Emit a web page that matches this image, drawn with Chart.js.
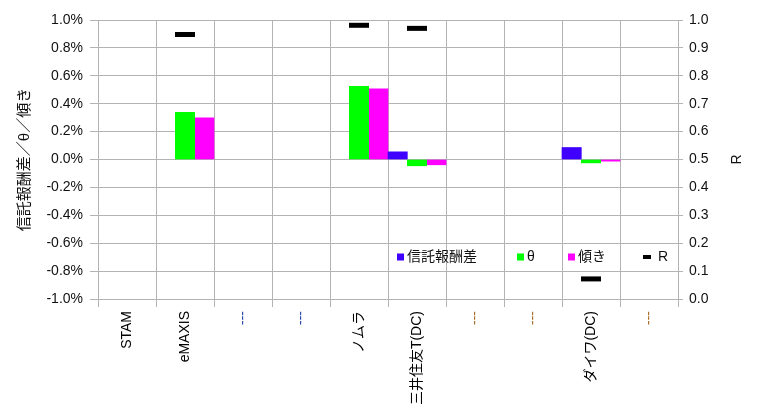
<!DOCTYPE html>
<html>
<head>
<meta charset="utf-8">
<script src="https://cdn.jsdelivr.net/npm/chart.js@4.4.1/dist/chart.umd.min.js"></script>
<style>
  html, body { margin: 0; padding: 0; background: #fff; }
  #wrap { width: 760px; height: 420px; }
</style>
</head>
<body>
<div id="wrap"><canvas id="chart"></canvas></div>
<script>
// Categories and series (percent values for the bars, R on the right axis)
const categories = ['STAM', 'eMAXIS', '---', '---', 'ノムラ', '三井住友T(DC)', '---', '---', 'ダイワ(DC)', '---'];
const labelColors = ['#000', '#000', '#2848a8', '#2848a8', '#000', '#000', '#a87028', '#a87028', '#000', '#a87028'];
const feeDiff = [null, null, null, null, null, 0.055, null, null, 0.086, null];
const theta = [null, 0.338, null, null, 0.524, -0.045, null, null, -0.024, null];
const slope = [null, 0.298, null, null, 0.507, -0.038, null, null, -0.012, null];
const rValues = [null, 0.948, null, null, 0.981, 0.970, null, null, 0.072, null];
const seriesNames = ['信託報酬差', 'θ', '傾き', 'R'];

const GRID = '#b3b3b3';
const FONT = '"Liberation Sans", Arial, "Noto Sans CJK JP", sans-serif';

Chart.defaults.font.family = FONT;
Chart.defaults.font.size = 14;
Chart.defaults.color = '#111';

// Legend drawn inside the plot, one row near the bottom right,
// plus the right axis title which reads bottom-to-top like the left one
const innerLegend = {
  id: 'innerLegend',
  afterDraw(chart) {
    const { ctx, chartArea } = chart;
    const y = chartArea.bottom - 42;
    const xs = [397, 517, 568, 643];
    ctx.save();
    ctx.font = '14px ' + FONT;
    ctx.textBaseline = 'middle';
    chart.data.datasets.forEach((ds, i) => {
      const x = xs[i];
      if (ds.type === 'line') {
        ctx.fillStyle = ds.borderColor;
        ctx.fillRect(x, y - 2, 8, 4);
      } else {
        ctx.fillStyle = ds.backgroundColor;
        ctx.fillRect(x, y - 3.5, 7, 7);
      }
      ctx.fillStyle = '#111';
      ctx.fillText(ds.label, x + (ds.type === 'line' ? 15 : 10), y);
    });

    const r = chart.scales.y2;
    ctx.translate(r.right - 23, (chartArea.top + chartArea.bottom) / 2);
    ctx.rotate(-Math.PI / 2);
    ctx.textAlign = 'center';
    ctx.fillText('R', 0, 0);
    ctx.restore();
  }
};

new Chart(document.getElementById('chart'), {
  type: 'bar',
  data: {
    labels: categories,
    datasets: [
      { label: seriesNames[0], data: feeDiff, backgroundColor: '#4000ff', yAxisID: 'y', order: 2 },
      { label: seriesNames[1], data: theta, backgroundColor: '#00ff00', yAxisID: 'y', order: 2 },
      { label: seriesNames[2], data: slope, backgroundColor: '#ff00ff', yAxisID: 'y', order: 2 },
      {
        label: seriesNames[3], type: 'line', data: rValues, yAxisID: 'y2', order: 1,
        showLine: false, borderColor: '#000', backgroundColor: '#000',
        pointStyle: 'line', pointRadius: 10, pointBorderWidth: 5, pointHoverRadius: 10
      }
    ]
  },
  options: {
    responsive: true,
    maintainAspectRatio: false,
    animation: false,
    events: [],
    layout: { padding: { top: 20, left: 0, right: 0, bottom: 0 } },
    datasets: { bar: { categoryPercentage: 1.0, barPercentage: 1.0 } },
    plugins: { legend: { display: false }, tooltip: { enabled: false } },
    scales: {
      x: {
        offset: true,
        grid: { color: GRID, offset: true, tickLength: 8 },
        border: { color: GRID },
        ticks: {
          maxRotation: 90, minRotation: 90, padding: 4, autoSkip: false,
          color: (c) => labelColors[c.index] || '#000',
          font: { size: 14 }
        },
        afterFit(scale) { scale.height = 121; }
      },
      y: {
        position: 'left',
        min: -1.0, max: 1.0,
        grid: { color: GRID, tickLength: 8 },
        border: { color: GRID },
        ticks: { stepSize: 0.2, padding: 7, callback: (v) => v.toFixed(1) + '%' },
        title: { display: true, text: '信託報酬差／θ／傾き', font: { size: 15 }, padding: { top: 16 } },
        afterFit(scale) { scale.width = 98; }
      },
      y2: {
        position: 'right',
        min: 0, max: 1,
        grid: { color: GRID, drawOnChartArea: false, tickLength: 5 },
        border: { display: false },
        ticks: { stepSize: 0.1, padding: 6, callback: (v) => v.toFixed(1) },
        afterFit(scale) { scale.width = 82; }
      }
    }
  },
  plugins: [innerLegend]
});
</script>
</body>
</html>
